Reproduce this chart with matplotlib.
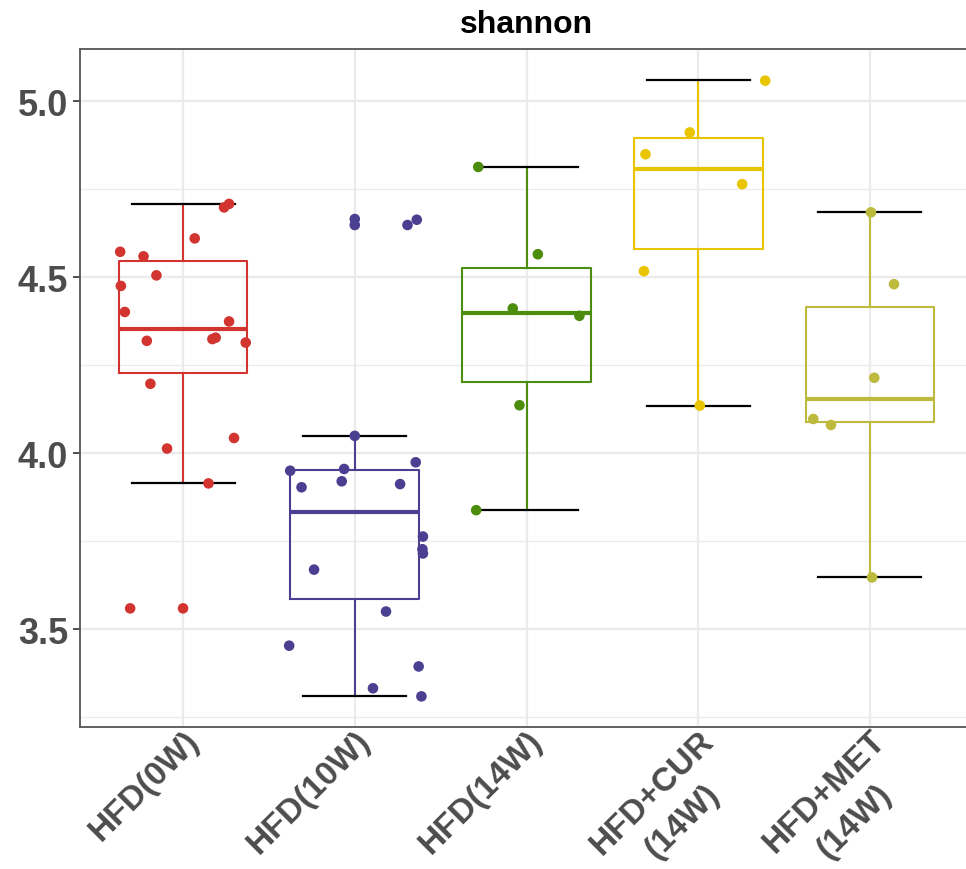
import matplotlib
matplotlib.use("Agg")
import matplotlib.pyplot as plt
from matplotlib.ticker import MultipleLocator

plt.rcParams['font.family'] = ['Liberation Sans', 'DejaVu Sans']

# ---- data ----
groups = ["HFD(0W)", "HFD(10W)", "HFD(14W)", "HFD+CUR\n(14W)", "HFD+MET\n(14W)"]
colors = ["#D2342F", "#4A3F90", "#4C8D0E", "#E9C500", "#BEBA3E"]

vals_0w = [4.698, 4.708, 4.610, 4.572, 4.559, 4.505, 4.475, 4.401, 4.374, 4.319,
           4.324, 4.328, 4.314, 4.197, 4.043, 4.013, 3.914, 3.559, 3.559]
jit_0w = [0.239, 0.268, 0.068, -0.366, -0.230, -0.155, -0.362, -0.339, 0.268, -0.211,
          0.171, 0.190, 0.365, -0.190, 0.297, -0.093, 0.148, -0.308, 0.0]

vals_10w = [4.665, 4.648, 4.648, 4.663, 4.049, 3.950, 3.955, 3.974, 3.903, 3.920,
            3.912, 3.763, 3.727, 3.715, 3.669, 3.550, 3.453, 3.394, 3.332, 3.309]
jit_10w = [0.0, 0.0, 0.307, 0.361, 0.0, -0.376, -0.062, 0.355, -0.310, -0.076,
           0.264, 0.397, 0.394, 0.397, -0.237, 0.182, -0.382, 0.372, 0.106, 0.388]

vals_14w = [4.813, 4.565, 4.411, 4.390, 4.136, 3.838]
jit_14w = [-0.281, 0.066, -0.080, 0.308, -0.041, -0.293]

vals_cur = [5.058, 4.911, 4.849, 4.764, 4.517, 4.135]
jit_cur = [0.390, -0.049, -0.307, 0.256, -0.316, 0.009]

vals_met = [4.684, 4.480, 4.214, 4.097, 4.080, 3.647]
jit_met = [0.006, 0.140, 0.025, -0.330, -0.227, 0.012]

# box statistics
q1 = [4.227, 3.585, 4.201, 4.579, 4.087]
med = [4.352, 3.834, 4.399, 4.807, 4.155]
q3 = [4.546, 3.952, 4.527, 4.895, 4.414]
whislo = [3.914, 3.309, 3.838, 4.135, 3.647]
whishi = [4.707, 4.049, 4.814, 5.059, 4.684]

values = [vals_0w, vals_10w, vals_14w, vals_cur, vals_met]
jitters = [jit_0w, jit_10w, jit_14w, jit_cur, jit_met]

# ---- figure ----
W, H = 966, 870
fig = plt.figure(figsize=(W / 100, H / 100), dpi=100)
ax = fig.add_axes([80 / W, 1 - 728 / H, (973 - 80) / W, (728 - 50) / H])

for i in range(5):
    pos = i + 1
    st = dict(med=med[i], q1=q1[i], q3=q3[i], whislo=whislo[i], whishi=whishi[i], fliers=[])
    c = colors[i]
    ax.bxp([st], positions=[pos], widths=0.75, capwidths=0.6, showfliers=False,
           boxprops=dict(color=c, linewidth=1.5),
           whiskerprops=dict(color=c, linewidth=1.5),
           capprops=dict(color="black", linewidth=1.6),
           medianprops=dict(color=c, linewidth=3.0, solid_capstyle='butt'),
           zorder=3)
    xs = [pos + j for j in jitters[i]]
    ax.scatter(xs, values[i], s=58, color=c, edgecolors='none', zorder=4)

ax.set_xlim(0.4, 5.6)
ax.set_ylim(3.222, 5.148)
ax.set_xticks(range(1, 6))
ax.set_xticklabels(groups)
ax.yaxis.set_major_locator(MultipleLocator(0.5))
ax.yaxis.set_minor_locator(MultipleLocator(0.25))
ax.yaxis.set_major_formatter(matplotlib.ticker.FormatStrFormatter('%.1f'))

ax.grid(True, which='major', color='#EBEBEB', linewidth=1.6, zorder=0)
ax.grid(True, which='minor', axis='y', color='#EBEBEB', linewidth=0.9, zorder=0)
ax.set_axisbelow(True)

for sp in ax.spines.values():
    sp.set_color('#555555')
    sp.set_linewidth(1.3)

ax.tick_params(axis='y', which='major', length=5, width=1.2, color='#333333', pad=3.5,
               labelsize=26, labelcolor='#4D4D4D')
ax.tick_params(axis='y', which='minor', length=0)
ax.tick_params(axis='x', which='major', length=0, pad=-2,
               labelsize=24, labelcolor='#4D4D4D')
for lab in ax.get_yticklabels():
    lab.set_fontweight('bold')
for lab in ax.get_xticklabels():
    lab.set_fontweight('bold')
    lab.set_rotation(45)
    lab.set_ha('right')
    lab.set_va('top')
    lab.set_rotation_mode('anchor')
    lab.set_multialignment('center')
    lab.set_linespacing(1.45)

ax.set_title("shannon", fontsize=23, fontweight='bold', color='black', pad=12)

fig.savefig("out.png", dpi=100)
